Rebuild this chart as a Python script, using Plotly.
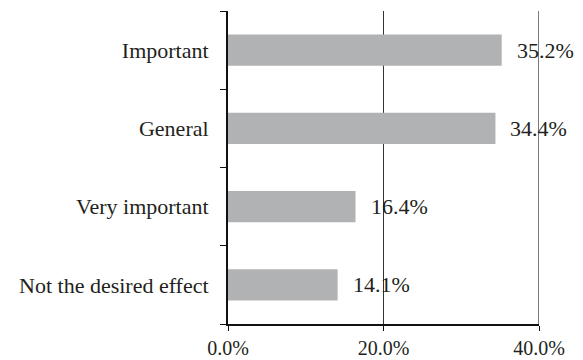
import plotly.graph_objects as go

categories = ["Not the desired effect", "Very important", "General", "Important"]
values = [14.1, 16.4, 34.4, 35.2]
labels = ["14.1%", "16.4%", "34.4%", "35.2%"]
x_ticks = [0, 20, 40]
x_tick_labels = ["0.0%", "20.0%", "40.0%"]

font = dict(family="Liberation Serif", size=22, color="#231f20")

fig = go.Figure()
fig.add_trace(go.Bar(
    x=values, y=categories, orientation="h",
    marker=dict(color="#b1b2b4", line=dict(width=0)),
    width=0.4,
))
for v, c, t in zip(values, categories, labels):
    fig.add_annotation(x=v, y=c, text=t, showarrow=False, xanchor="left",
                       xshift=13, font=font)

# gridline at the right end of the range (plotly skips the edge gridline)
fig.add_shape(type="line", xref="x", yref="paper", x0=x_ticks[-1], x1=x_ticks[-1],
              y0=0, y1=1, line=dict(color="#222222", width=1.2), layer="below")

fig.update_layout(
    width=583, height=360,
    margin=dict(l=228, r=44, t=11, b=36),
    plot_bgcolor="white", paper_bgcolor="white",
    showlegend=False, font=font,
    bargap=0.6,
)
fig.update_xaxes(
    range=[0, 40], tickvals=x_ticks, ticktext=x_tick_labels,
    tickfont=dict(family="Liberation Serif", size=20, color="#231f20"),
    showgrid=True, gridcolor="#333333", gridwidth=1,
    showline=True, linecolor="#111111", linewidth=2,
    ticks="outside", ticklen=5, tickcolor="#111111", tickwidth=1,
    automargin=False,
    zeroline=False, fixedrange=True,
)
fig.update_yaxes(
    categoryorder="array", categoryarray=categories,
    showgrid=False, showline=True, linecolor="#111111", linewidth=2,
    ticks="outside", tickson="boundaries", ticklen=6, tickcolor="#111111", tickwidth=1,
    ticklabelstandoff=13, automargin=False,
    zeroline=False, fixedrange=True,
)

fig.write_html("out.html")
